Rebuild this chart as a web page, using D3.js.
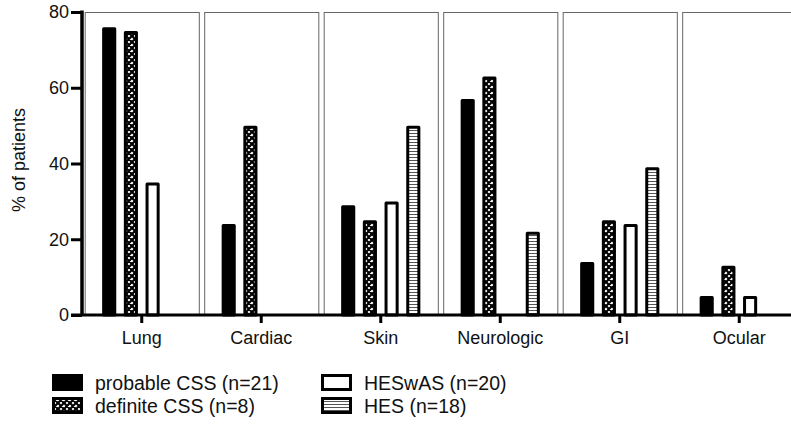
<!DOCTYPE html>
<html>
<head>
<meta charset="utf-8">
<script src="https://cdn.jsdelivr.net/npm/d3@7"></script>
<style>
  body { margin: 0; background: #fff; }
  text { font-family: Arial, "Liberation Sans", sans-serif; fill: #111; }
</style>
</head>
<body>
<div id="my_dataviz"></div>
<script>
// data
var categories = ["Lung", "Cardiac", "Skin", "Neurologic", "GI", "Ocular"];
var series = ["probable", "definite", "heswas", "hes"];
var seriesLabels = ["probable CSS (n=21)", "definite CSS (n=8)", "HESwAS (n=20)", "HES (n=18)"];
var probable = [76, 24, 29, 57, 14, 5];
var definite = [75, 50, 25, 63, 25, 13];
var heswas   = [35, 0, 30, 0, 24, 5];
var hes      = [0, 0, 50, 22, 39, 0];
var yTicks = [0, 20, 40, 60, 80];

var values = { probable: probable, definite: definite, heswas: heswas, hes: hes };

var width = 791, height = 426;
var svg = d3.select("#my_dataviz").append("svg")
    .attr("width", width).attr("height", height);

// patterns
var defs = svg.append("defs");
var cross = defs.append("pattern").attr("id", "cross")
    .attr("patternUnits", "userSpaceOnUse").attr("width", 6).attr("height", 6);
cross.append("rect").attr("width", 6).attr("height", 6).attr("fill", "#fff");
cross.append("path").attr("d", "M0,0L6,6M6,0L0,6M-1,5L1,7M5,-1L7,1M-1,1L1,-1M5,7L7,5")
    .attr("stroke", "#000").attr("stroke-width", 2.2);
var stripes = defs.append("pattern").attr("id", "stripes")
    .attr("patternUnits", "userSpaceOnUse").attr("width", 6).attr("height", 3);
stripes.append("rect").attr("width", 6).attr("height", 3).attr("fill", "#fff");
stripes.append("line").attr("x1", 0).attr("x2", 6).attr("y1", 1.5).attr("y2", 1.5)
    .attr("stroke", "#555").attr("stroke-width", 1);

var fills = { probable: "#000", definite: "url(#cross)", heswas: "#fff", hes: "url(#stripes)" };

var x0 = d3.scaleBand().domain(categories).range([82, 799]).padding(0);
var xBox = d3.scaleBand().domain(categories).range([82, 799])
    .paddingInner(0.045).paddingOuter(0.0225);
var x1 = d3.scaleBand().domain(series).range([-43.4, 43.4])
    .paddingInner(0.35).paddingOuter(0.175);
var y = d3.scaleLinear().domain([0, 80]).range([315, 12]);

// panel boxes
svg.append("g").selectAll("rect").data(categories).enter().append("rect")
    .attr("x", function(d) { return xBox(d) + 0.5; })
    .attr("y", y(80) + 0.5)
    .attr("width", xBox.bandwidth())
    .attr("height", y(0) - y(80))
    .attr("fill", "none")
    .attr("stroke", "#666")
    .attr("stroke-width", 1);

// bars
var barData = [];
categories.forEach(function(c, i) {
    series.forEach(function(s) {
        if (values[s][i] > 0) barData.push({ cat: c, s: s, v: values[s][i] });
    });
});

svg.append("g").selectAll("rect").data(barData).enter().append("rect")
    .attr("x", function(d) { return x0(d.cat) + x0.bandwidth() / 2 + x1(d.s) + 1.5; })
    .attr("y", function(d) { return y(d.v) + 1.5; })
    .attr("width", x1.bandwidth() - 3)
    .attr("height", function(d) { return y(0) - y(d.v) - 1.5; })
    .attr("fill", function(d) { return fills[d.s]; })
    .attr("stroke", "#000")
    .attr("stroke-width", 3)
    .attr("stroke-linejoin", "round");

// y axis
var yAxis = svg.append("g").attr("transform", "translate(82,0)")
    .call(d3.axisLeft(y).tickValues(yTicks).tickSize(11).tickPadding(2));
yAxis.select(".domain").attr("stroke", "#000").attr("stroke-width", 3.5)
    .attr("d", "M0," + (y(80) - 1.5) + "V" + y(0));
yAxis.selectAll(".tick line").attr("stroke", "#000").attr("stroke-width", 3);
yAxis.selectAll(".tick text").style("font-size", "18px");

// x axis
var xAxis = svg.append("g").attr("transform", "translate(0," + y(0) + ")")
    .call(d3.axisBottom(x0).tickSize(8).tickPadding(8));
xAxis.select(".domain").attr("stroke", "#000").attr("stroke-width", 3)
    .attr("d", "M71,0H" + width);
xAxis.selectAll(".tick line").attr("stroke", "#000").attr("stroke-width", 3);
xAxis.selectAll(".tick text").style("font-size", "18px");

// y label
svg.append("text")
    .attr("transform", "translate(25,160) rotate(-90)")
    .attr("text-anchor", "middle")
    .style("font-size", "18px")
    .text("% of patients");

// legend
var legendX = [52, 321], legendY = [374, 397];
var legend = svg.append("g").selectAll("g").data(series).enter().append("g")
    .attr("transform", function(d, i) {
        return "translate(" + legendX[Math.floor(i / 2)] + "," + legendY[i % 2] + ")";
    });
legend.append("rect")
    .attr("x", 1.5).attr("y", 1.5)
    .attr("width", 28).attr("height", 14)
    .attr("fill", function(d) { return fills[d]; })
    .attr("stroke", "#000").attr("stroke-width", 3);
legend.append("text")
    .attr("x", 43).attr("y", 15.5)
    .style("font-size", "19.5px")
    .text(function(d, i) { return seriesLabels[i]; });
</script>
</body>
</html>
